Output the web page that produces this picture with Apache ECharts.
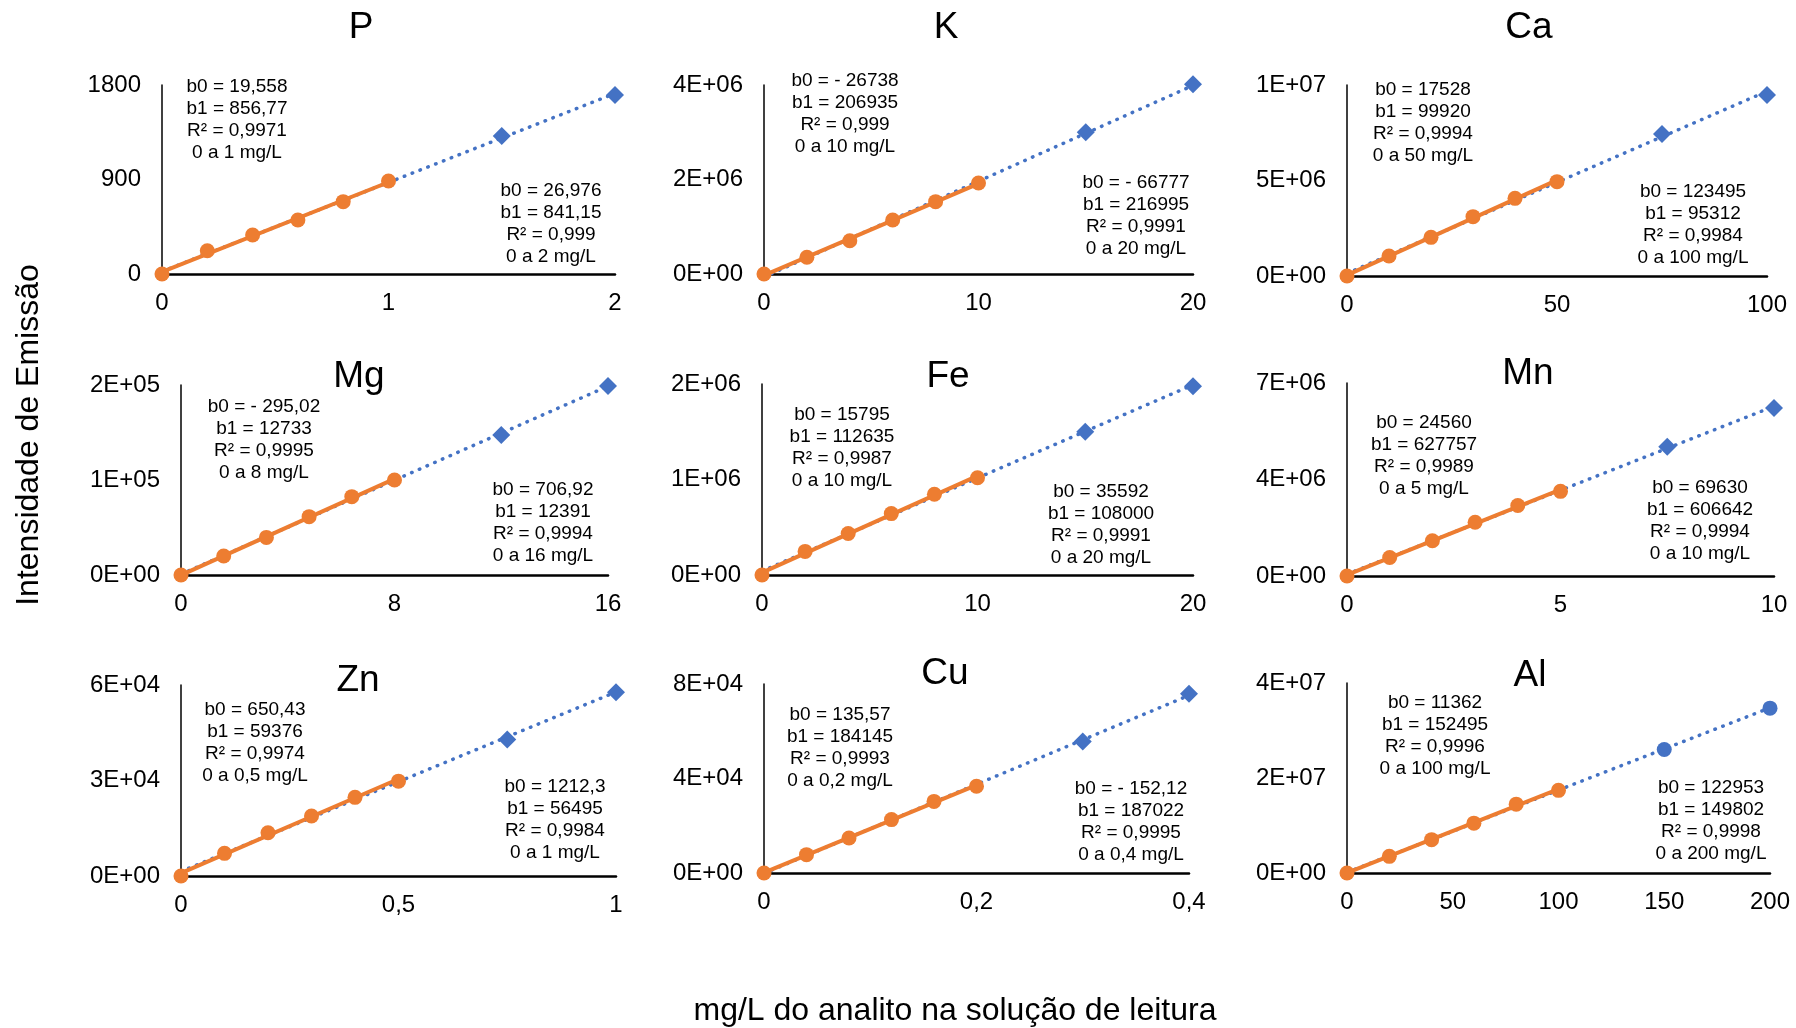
<!DOCTYPE html>
<html>
<head>
<meta charset="utf-8">
<script src="https://cdn.jsdelivr.net/npm/echarts@6/dist/echarts.min.js"></script>
<style>
  html, body { margin: 0; padding: 0; background: #ffffff; }
  #chart { width: 1796px; height: 1028px; }
</style>
</head>
<body>
<div id="chart"></div>
<script>
// ---------- Calibration data: concentration (mg/L) vs emission intensity ----------
// P
const P_conc = [0, 0.2, 0.4, 0.6, 0.8, 1];
const P_int = [0, 222, 371, 514, 689, 886];
const P_extConc = [1.5, 2];
const P_extInt = [1314, 1705];
const P_xTicks = ['0', '1', '2'];
const P_yTicks = ['0', '900', '1800'];
const P_fitA = ['b0 = 19,558', 'b1 = 856,77', 'R² = 0,9971', '0 a 1 mg/L'];
const P_fitB = ['b0 = 26,976', 'b1 = 841,15', 'R² = 0,999', '0 a 2 mg/L'];

// K
const K_conc = [0, 2, 4, 6, 8, 10];
const K_int = [0, 353000, 705000, 1143000, 1531000, 1926000];
const K_extConc = [15, 20];
const K_extInt = [2998000, 4014000];
const K_xTicks = ['0', '10', '20'];
const K_yTicks = ['0E+00', '2E+06', '4E+06'];
const K_fitA = ['b0 = - 26738', 'b1 = 206935', 'R² = 0,999', '0 a 10 mg/L'];
const K_fitB = ['b0 = - 66777', 'b1 = 216995', 'R² = 0,9991', '0 a 20 mg/L'];

// Ca
const Ca_conc = [0, 10, 20, 30, 40, 50];
const Ca_int = [0, 1047000, 2024000, 3106000, 4066000, 4939000];
const Ca_extConc = [75, 100];
const Ca_extInt = [7435000, 9476000];
const Ca_xTicks = ['0', '50', '100'];
const Ca_yTicks = ['0E+00', '5E+06', '1E+07'];
const Ca_fitA = ['b0 = 17528', 'b1 = 99920', 'R² = 0,9994', '0 a 50 mg/L'];
const Ca_fitB = ['b0 = 123495', 'b1 = 95312', 'R² = 0,9984', '0 a 100 mg/L'];

// Mg
const Mg_conc = [0, 1.6, 3.2, 4.8, 6.4, 8];
const Mg_int = [0, 20000, 39600, 61400, 82500, 100000];
const Mg_extConc = [12, 16];
const Mg_extInt = [147400, 198900];
const Mg_xTicks = ['0', '8', '16'];
const Mg_yTicks = ['0E+00', '1E+05', '2E+05'];
const Mg_fitA = ['b0 = - 295,02', 'b1 = 12733', 'R² = 0,9995', '0 a 8 mg/L'];
const Mg_fitB = ['b0 = 706,92', 'b1 = 12391', 'R² = 0,9994', '0 a 16 mg/L'];

// Fe
const Fe_conc = [0, 2, 4, 6, 8, 10];
const Fe_int = [0, 247000, 435000, 643000, 845000, 1019000];
const Fe_extConc = [15, 20];
const Fe_extInt = [1500000, 1976000];
const Fe_xTicks = ['0', '10', '20'];
const Fe_yTicks = ['0E+00', '1E+06', '2E+06'];
const Fe_fitA = ['b0 = 15795', 'b1 = 112635', 'R² = 0,9987', '0 a 10 mg/L'];
const Fe_fitB = ['b0 = 35592', 'b1 = 108000', 'R² = 0,9991', '0 a 20 mg/L'];

// Mn
const Mn_conc = [0, 1, 2, 3, 4, 5];
const Mn_int = [0, 670000, 1279000, 1949000, 2558000, 3070000];
const Mn_extConc = [7.5, 10];
const Mn_extInt = [4690000, 6090000];
const Mn_xTicks = ['0', '5', '10'];
const Mn_yTicks = ['0E+00', '4E+06', '7E+06'];
const Mn_fitA = ['b0 = 24560', 'b1 = 627757', 'R² = 0,9989', '0 a 5 mg/L'];
const Mn_fitB = ['b0 = 69630', 'b1 = 606642', 'R² = 0,9994', '0 a 10 mg/L'];

// Zn
const Zn_conc = [0, 0.1, 0.2, 0.3, 0.4, 0.5];
const Zn_int = [0, 7120, 13600, 18850, 24700, 29800];
const Zn_extConc = [0.75, 1];
const Zn_extInt = [42900, 57700];
const Zn_xTicks = ['0', '0,5', '1'];
const Zn_yTicks = ['0E+00', '3E+04', '6E+04'];
const Zn_fitA = ['b0 = 650,43', 'b1 = 59376', 'R² = 0,9974', '0 a 0,5 mg/L'];
const Zn_fitB = ['b0 = 1212,3', 'b1 = 56495', 'R² = 0,9984', '0 a 1 mg/L'];

// Cu
const Cu_conc = [0, 0.04, 0.08, 0.12, 0.16, 0.2];
const Cu_int = [0, 7760, 14800, 22600, 30300, 36700];
const Cu_extConc = [0.3, 0.4];
const Cu_extInt = [55700, 75900];
const Cu_xTicks = ['0', '0,2', '0,4'];
const Cu_yTicks = ['0E+00', '4E+04', '8E+04'];
const Cu_fitA = ['b0 = 135,57', 'b1 = 184145', 'R² = 0,9993', '0 a 0,2 mg/L'];
const Cu_fitB = ['b0 = - 152,12', 'b1 = 187022', 'R² = 0,9995', '0 a 0,4 mg/L'];

// Al
const Al_conc = [0, 20, 40, 60, 80, 100];
const Al_int = [0, 3510000, 7020000, 10500000, 14500000, 17400000];
const Al_extConc = [150, 200];
const Al_extInt = [26000000, 34700000];
const Al_xTicks = ['0', '50', '100', '150', '200'];
const Al_yTicks = ['0E+00', '2E+07', '4E+07'];
const Al_fitA = ['b0 = 11362', 'b1 = 152495', 'R² = 0,9996', '0 a 100 mg/L'];
const Al_fitB = ['b0 = 122953', 'b1 = 149802', 'R² = 0,9998', '0 a 200 mg/L'];

// ---------- Panel definitions (data + axis ranges) ----------
const panels = [
  { name: 'P',  conc: P_conc,  int: P_int,  extConc: P_extConc,  extInt: P_extInt,  xTicks: P_xTicks,  yTicks: P_yTicks,  fitA: P_fitA,  fitB: P_fitB,  xMax: 2,   xStep: 1,   yMax: 1800,  yStep: 900,    extSymbol: 'diamond' },
  { name: 'K',  conc: K_conc,  int: K_int,  extConc: K_extConc,  extInt: K_extInt,  xTicks: K_xTicks,  yTicks: K_yTicks,  fitA: K_fitA,  fitB: K_fitB,  xMax: 20,  xStep: 10,  yMax: 4e6,   yStep: 2e6,    extSymbol: 'diamond' },
  { name: 'Ca', conc: Ca_conc, int: Ca_int, extConc: Ca_extConc, extInt: Ca_extInt, xTicks: Ca_xTicks, yTicks: Ca_yTicks, fitA: Ca_fitA, fitB: Ca_fitB, xMax: 100, xStep: 50,  yMax: 1e7,   yStep: 5e6,    extSymbol: 'diamond' },
  { name: 'Mg', conc: Mg_conc, int: Mg_int, extConc: Mg_extConc, extInt: Mg_extInt, xTicks: Mg_xTicks, yTicks: Mg_yTicks, fitA: Mg_fitA, fitB: Mg_fitB, xMax: 16,  xStep: 8,   yMax: 2e5,   yStep: 1e5,    extSymbol: 'diamond' },
  { name: 'Fe', conc: Fe_conc, int: Fe_int, extConc: Fe_extConc, extInt: Fe_extInt, xTicks: Fe_xTicks, yTicks: Fe_yTicks, fitA: Fe_fitA, fitB: Fe_fitB, xMax: 20,  xStep: 10,  yMax: 2e6,   yStep: 1e6,    extSymbol: 'diamond' },
  { name: 'Mn', conc: Mn_conc, int: Mn_int, extConc: Mn_extConc, extInt: Mn_extInt, xTicks: Mn_xTicks, yTicks: Mn_yTicks, fitA: Mn_fitA, fitB: Mn_fitB, xMax: 10,  xStep: 5,   yMax: 7e6,   yStep: 3.5e6,  extSymbol: 'diamond' },
  { name: 'Zn', conc: Zn_conc, int: Zn_int, extConc: Zn_extConc, extInt: Zn_extInt, xTicks: Zn_xTicks, yTicks: Zn_yTicks, fitA: Zn_fitA, fitB: Zn_fitB, xMax: 1,   xStep: 0.5, yMax: 6e4,   yStep: 3e4,    extSymbol: 'diamond' },
  { name: 'Cu', conc: Cu_conc, int: Cu_int, extConc: Cu_extConc, extInt: Cu_extInt, xTicks: Cu_xTicks, yTicks: Cu_yTicks, fitA: Cu_fitA, fitB: Cu_fitB, xMax: 0.4, xStep: 0.2, yMax: 8e4,   yStep: 4e4,    extSymbol: 'diamond' },
  { name: 'Al', conc: Al_conc, int: Al_int, extConc: Al_extConc, extInt: Al_extInt, xTicks: Al_xTicks, yTicks: Al_yTicks, fitA: Al_fitA, fitB: Al_fitB, xMax: 200, xStep: 50,  yMax: 4e7,   yStep: 2e7,    extSymbol: 'circle' }
];

// ---------- Page layout (pixels) ----------
const layout = [
  { grid: [162, 85, 453, 189],  title: [361, 28],   boxA: [237, 87],   boxB: [551, 191] },
  { grid: [764, 85, 429, 189],  title: [946, 28],   boxA: [845, 81],   boxB: [1136, 183] },
  { grid: [1347, 85, 420, 191], title: [1529, 28],  boxA: [1423, 90],  boxB: [1693, 192] },
  { grid: [181, 385, 427, 190], title: [359, 377],  boxA: [264, 407],  boxB: [543, 490] },
  { grid: [762, 384, 431, 191], title: [948, 377],  boxA: [842, 415],  boxB: [1101, 492] },
  { grid: [1347, 383, 427, 193], title: [1528, 374], boxA: [1424, 423], boxB: [1700, 488] },
  { grid: [181, 685, 435, 191], title: [358, 681],  boxA: [255, 710],  boxB: [555, 787] },
  { grid: [764, 684, 425, 189], title: [945, 674],  boxA: [840, 715],  boxB: [1131, 789] },
  { grid: [1347, 683, 423, 190], title: [1530, 676], boxA: [1435, 703], boxB: [1711, 788] }
];

const FONT = '"Liberation Sans", Arial, Helvetica, sans-serif';
const ORANGE = '#ED7D31';
const BLUE = '#4472C4';
const INK = '#000000';

// Ordinary least-squares line through a set of points, returned as its two end points
function fitLine(xs, ys, x0, x1) {
  const n = xs.length;
  const mx = xs.reduce((a, b) => a + b, 0) / n;
  const my = ys.reduce((a, b) => a + b, 0) / n;
  let sxy = 0, sxx = 0;
  for (let i = 0; i < n; i++) {
    sxy += (xs[i] - mx) * (ys[i] - my);
    sxx += (xs[i] - mx) * (xs[i] - mx);
  }
  const b1 = sxy / sxx;
  const b0 = my - b1 * mx;
  return [[x0, b0 + b1 * x0], [x1, b0 + b1 * x1]];
}

const grids = [], xAxes = [], yAxes = [], series = [], graphics = [];

panels.forEach((p, i) => {
  const L = layout[i];
  grids.push({ left: L.grid[0], top: L.grid[1], width: L.grid[2], height: L.grid[3], containLabel: false });

  xAxes.push({
    type: 'value', gridIndex: i, min: 0, max: p.xMax, interval: p.xStep,
    axisLine: { show: true, onZero: false, lineStyle: { color: INK, width: 2.5 } },
    axisTick: { show: false }, splitLine: { show: false },
    axisLabel: {
      margin: 17, color: INK, fontSize: 24, fontFamily: FONT,
      formatter: (v) => p.xTicks[Math.round(v / p.xStep)]
    }
  });
  yAxes.push({
    type: 'value', gridIndex: i, min: 0, max: p.yMax, interval: p.yStep,
    axisLine: { show: true, onZero: false, lineStyle: { color: INK, width: 1.5 } },
    axisTick: { show: false }, splitLine: { show: false },
    axisLabel: {
      margin: 21, color: INK, fontSize: 24, fontFamily: FONT,
      formatter: (v) => p.yTicks[Math.round(v / p.yStep)]
    }
  });

  const allConc = p.conc.concat(p.extConc);
  const allInt = p.int.concat(p.extInt);
  const halfMax = p.conc[p.conc.length - 1];

  // Fit over the full range (round-dotted blue)
  series.push({
    type: 'line', xAxisIndex: i, yAxisIndex: i, z: 2, silent: true, clip: false,
    data: fitLine(allConc, allInt, 0, p.xMax),
    showSymbol: false, symbol: 'none',
    lineStyle: { color: BLUE, width: 3.5, type: [0.5, 7.9], cap: 'round' }
  });
  // Fit over the lower range (solid orange)
  series.push({
    type: 'line', xAxisIndex: i, yAxisIndex: i, z: 3, silent: true, clip: false,
    data: fitLine(p.conc, p.int, 0, halfMax),
    showSymbol: false, symbol: 'none',
    lineStyle: { color: ORANGE, width: 4 }
  });
  // Lower-range standards
  series.push({
    type: 'scatter', xAxisIndex: i, yAxisIndex: i, z: 4, clip: false,
    data: p.conc.map((c, k) => [c, p.int[k]]),
    symbol: 'circle', symbolSize: 15,
    itemStyle: { color: ORANGE, opacity: 1 }
  });
  // Extended-range standards
  series.push({
    type: 'scatter', xAxisIndex: i, yAxisIndex: i, z: 4, clip: false,
    data: p.extConc.map((c, k) => [c, p.extInt[k]]),
    symbol: p.extSymbol, symbolSize: p.extSymbol === 'diamond' ? 18 : 15,
    itemStyle: { color: BLUE, opacity: 1 }
  });

  // Element name
  graphics.push({
    type: 'text', x: L.title[0], y: L.title[1], z: 10,
    style: { text: p.name, fill: INK, font: '37px ' + FONT, textAlign: 'center', textVerticalAlign: 'middle' }
  });
  // Regression parameter boxes
  [[p.fitA, L.boxA], [p.fitB, L.boxB]].forEach(([lines, pos]) => {
    graphics.push({
      type: 'text', x: pos[0], y: pos[1] - 11, z: 10,
      style: { text: lines.join('\n'), fill: INK, font: '19px ' + FONT, lineHeight: 22, textAlign: 'center', textVerticalAlign: 'top' }
    });
  });
});

// Shared axis titles
graphics.push({
  type: 'text', x: 29, y: 435, rotation: Math.PI / 2, z: 10,
  style: { text: 'Intensidade de Emissão', fill: INK, font: '32px ' + FONT, textAlign: 'center', textVerticalAlign: 'middle' }
});
graphics.push({
  type: 'text', x: 955, y: 1011, z: 10,
  style: { text: 'mg/L do analito na solução de leitura', fill: INK, font: '32px ' + FONT, textAlign: 'center', textVerticalAlign: 'middle' }
});

const chart = echarts.init(document.getElementById('chart'), null, { renderer: 'canvas' });
chart.setOption({
  backgroundColor: '#ffffff',
  animation: false,
  grid: grids,
  xAxis: xAxes,
  yAxis: yAxes,
  series: series,
  graphic: graphics
});
</script>
</body>
</html>
